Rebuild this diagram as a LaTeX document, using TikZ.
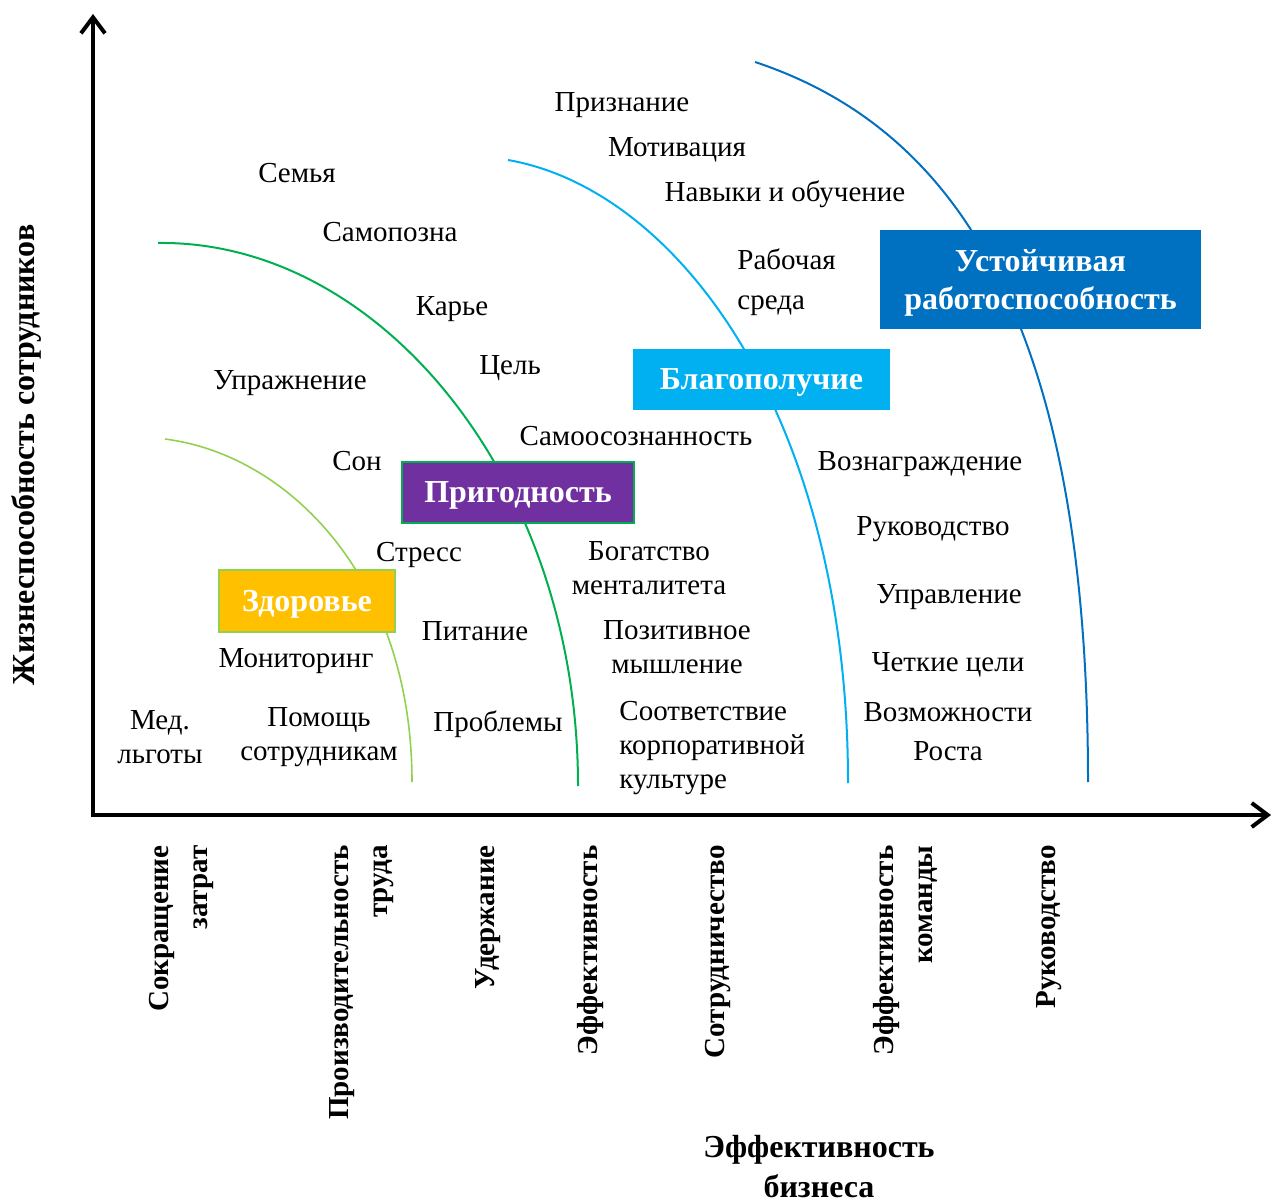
\documentclass[tikz,border=0pt]{standalone}
\usepackage{fontspec}
\setmainfont{Liberation Serif}
\usetikzlibrary{arrows.meta}

\definecolor{healthgold}{HTML}{FFC000}
\definecolor{limegreen}{HTML}{92D050}
\definecolor{fitgreen}{HTML}{00B050}
\definecolor{fitpurple}{HTML}{7030A0}
\definecolor{skyblue}{HTML}{00B0F0}
\definecolor{deepblue}{HTML}{0070C0}

\begin{document}
\begin{tikzpicture}[x=0.5pt,y=-0.5pt,
  words/.style={font=\fontsize{14.5}{17}\selectfont, align=center, inner sep=0pt},
  word/.style={words, text depth=0pt},
  stage/.style={font=\fontsize{16}{19}\selectfont\bfseries, text=white, align=center, inner sep=0pt, text depth=0pt},
  axislbl/.style={font=\fontsize{14.5}{19.5}\selectfont\bfseries, align=right, inner sep=0pt, rotate=90, anchor=east},
  axis/.style={line width=2pt, {Straight Barb[length=8pt,width=12pt]}-{Straight Barb[length=8pt,width=12pt]}}]
\useasboundingbox (0,0) rectangle (1273,1203);

% Level curves
\draw[limegreen, line width=0.8pt] (165,439) .. controls (290,455) and (412,580) .. (412,782);
\draw[fitgreen, line width=1pt] (158,243) .. controls (380,240) and (578,480) .. (578,786);
\draw[skyblue, line width=1pt] (508,160) .. controls (680,190) and (848,420) .. (848,783);
\draw[deepblue, line width=1pt] (755,62) .. controls (960,130) and (1088,330) .. (1088,782);

% Stages
\node[stage, fill=healthgold, draw=limegreen, line width=1pt, minimum width=88pt, minimum height=31pt] (health) at (307,601) {Здоровье};
\node[stage, fill=fitpurple, draw=fitgreen, line width=1.2pt, minimum width=116pt, minimum height=30.5pt] (fitness) at (518,492.5) {Пригодность};
\node[stage, fill=skyblue, minimum width=128.5pt, minimum height=30.5pt] (wellbeing) at (761.5,379.5) {Благополучие};
\node[stage, fill=deepblue, minimum width=160.5pt, minimum height=49.5pt] (sustain) at (1040.5,279.5) {Устойчивая\\работоспособность};

% Factors
\node[word] (recog) at (622,102) {Признание};
\node[word] (motiv) at (677,147) {Мотивация};
\node[word] (skills) at (785,191) {Навыки и обучение};
\node[word] (family) at (297,173) {Семья};
\node[word] (selfknow) at (390,232) {Самопозна};
\node[word] (career) at (452,306) {Карье};
\node[words, align=left, anchor=west, font=\fontsize{14.5}{20}\selectfont] (workenv) at (737,282) {Рабочая\\среда};
\node[word] (exercise) at (290,380) {Упражнение};
\node[word] (goal) at (510,365) {Цель};
\node[word] (aware) at (636,436) {Самоосознанность};
\node[word] (sleep) at (357,461) {Сон};
\node[word] (reward) at (920,461) {Вознаграждение};
\node[word] (guide) at (933,526) {Руководство};
\node[word] (stress) at (419,552) {Стресс};
\node[words] (mindset) at (649,568) {Богатство\\менталитета};
\node[word] (manage) at (949,594) {Управление};
\node[word] (food) at (475,631) {Питание};
\node[words] (positive) at (677,647) {Позитивное\\мышление};
\node[word] (monitor) at (296,658) {Мониторинг};
\node[word] (aims) at (948,662) {Четкие цели};
\node[words] (medic) at (160,737) {Мед.\\льготы};
\node[words] (help) at (319,737) {Помощь\\сотрудникам};
\node[word] (issues) at (498,721) {Проблемы};
\node[words, align=left, anchor=west] (culture) at (619,748) {Соответствие\\корпоративной\\культуре};
\node[words, font=\fontsize{14.5}{19.5}\selectfont] (growth) at (948,732) {Возможности\\Роста};

% Axes
\coordinate (ytop) at (93,14);
\coordinate (origin) at (93,815);
\coordinate (xend) at (1271,815);
\draw[axis] (ytop) -- (origin) -- (xend);

% Axis labels
\node[font=\fontsize{16}{19}\selectfont\bfseries, rotate=90, inner sep=0pt] (vital) at (26,455) {Жизнеспособность сотрудников};
\node[axislbl] (cost) at (181,845) {Сокращение\\затрат};
\node[axislbl] (prod) at (362,845) {Производительность\\труда};
\node[axislbl] (retain) at (488,845) {Удержание};
\node[axislbl] (effect) at (591,845) {Эффективность};
\node[axislbl] (collab) at (718,845) {Сотрудничество};
\node[axislbl] (team) at (905,845) {Эффективность\\команды};
\node[axislbl] (lead) at (1049,845) {Руководство};
\node[font=\fontsize{16}{20}\selectfont\bfseries, align=center, inner sep=0pt] (biz) at (819,1167) {Эффективность\\бизнеса};
\end{tikzpicture}
\end{document}
